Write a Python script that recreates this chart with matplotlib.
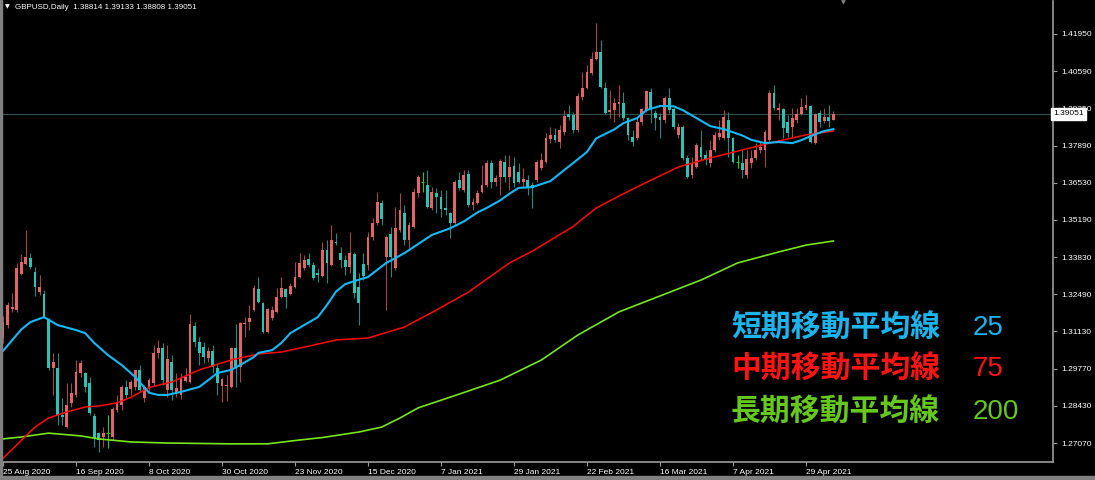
import numpy as np
import matplotlib.pyplot as plt
from matplotlib import font_manager

# GBPUSD daily candles (bar 0 = 25 Aug 2020)
opens = [
    1.3089, 1.3136, 1.3195, 1.3191, 1.3322, 1.3358, 1.3380, 1.3329, 1.3256, 1.3249,
    1.3155, 1.2980, 1.2980, 1.2809, 1.2765, 1.2853, 1.2882, 1.2962, 1.2962, 1.2925,
    1.2805, 1.2744, 1.2729, 1.2744, 1.2729, 1.2827, 1.2845, 1.2911, 1.2904, 1.2911,
    1.2973, 1.2871, 1.2911, 1.2925, 1.3035, 1.3053, 1.2900, 1.3002, 1.2893, 1.2882,
    1.2933, 1.2929, 1.3133, 1.3075, 1.3056, 1.3016, 1.3042, 1.2980, 1.2915, 1.2915,
    1.2911, 1.3053, 1.2984, 1.3140, 1.3147, 1.3191, 1.3267, 1.3216, 1.3111, 1.3162,
    1.3184, 1.3238, 1.3267, 1.3249, 1.3275, 1.3311, 1.3344, 1.3376, 1.3355, 1.3326,
    1.3315, 1.3409, 1.3355, 1.3438, 1.3398, 1.3373, 1.3347, 1.3395, 1.3275, 1.3358,
    1.3355, 1.3457, 1.3507, 1.3580, 1.3384, 1.3467, 1.3344, 1.3482, 1.3544, 1.3446,
    1.3493, 1.3617, 1.3657, 1.3646, 1.3562, 1.3617, 1.3602, 1.3562, 1.3544, 1.3507,
    1.3664, 1.3628, 1.3686, 1.3573, 1.3580, 1.3620, 1.3646, 1.3726, 1.3657, 1.3675,
    1.3729, 1.3675, 1.3715, 1.3693, 1.3657, 1.3664, 1.3646, 1.3664, 1.3708, 1.3729,
    1.3813, 1.3828, 1.3802, 1.3839, 1.3904, 1.3900, 1.3846, 1.3966, 1.3999, 1.4053,
    1.4104, 1.4130, 1.3999, 1.3911, 1.3919, 1.3940, 1.3944, 1.3889, 1.3820, 1.3817,
    1.3875, 1.3919, 1.3984, 1.3908, 1.3893, 1.3882, 1.3962, 1.3922, 1.3828, 1.3857,
    1.3744, 1.3682, 1.3711, 1.3784, 1.3755, 1.3726, 1.3773, 1.3820, 1.3817, 1.3882,
    1.3817, 1.3729, 1.3726, 1.3682, 1.3726, 1.3744, 1.3773, 1.3773, 1.3809, 1.3980,
    1.3919, 1.3922, 1.3875, 1.3857, 1.3882, 1.3904, 1.3926, 1.3933, 1.3799, 1.3908,
    1.3879, 1.3893, 1.38814]
highs = [
    1.3169, 1.3220, 1.3253, 1.3362, 1.3395, 1.3482, 1.3398, 1.3347, 1.3318, 1.3264,
    1.3162, 1.3035, 1.3035, 1.2871, 1.2925, 1.2925, 1.3009, 1.3009, 1.2965, 1.2947,
    1.2816, 1.2747, 1.2765, 1.2809, 1.2838, 1.2882, 1.2918, 1.2936, 1.2936, 1.2973,
    1.2991, 1.2918, 1.2944, 1.3064, 1.3082, 1.3071, 1.3064, 1.3027, 1.2962, 1.2962,
    1.2980, 1.3176, 1.3147, 1.3093, 1.3075, 1.3056, 1.3064, 1.2998, 1.2944, 1.2955,
    1.3056, 1.3140, 1.3147, 1.3165, 1.3209, 1.3282, 1.3311, 1.3220, 1.3198, 1.3205,
    1.3271, 1.3311, 1.3271, 1.3289, 1.3366, 1.3398, 1.3391, 1.3398, 1.3366, 1.3344,
    1.3438, 1.3446, 1.3500, 1.3471, 1.3420, 1.3391, 1.3475, 1.3402, 1.3326, 1.3398,
    1.3475, 1.3526, 1.3620, 1.3591, 1.3464, 1.3493, 1.3566, 1.3617, 1.3573, 1.3511,
    1.3635, 1.3682, 1.3693, 1.3700, 1.3638, 1.3635, 1.3628, 1.3628, 1.3547, 1.3664,
    1.3693, 1.3700, 1.3700, 1.3598, 1.3628, 1.3718, 1.3737, 1.3737, 1.3682, 1.3740,
    1.3755, 1.3755, 1.3748, 1.3726, 1.3708, 1.3682, 1.3657, 1.3737, 1.3762, 1.3835,
    1.3857, 1.3853, 1.3864, 1.3919, 1.3937, 1.3911, 1.3980, 1.4057, 1.4082, 1.4130,
    1.4235, 1.4173, 1.4020, 1.3991, 1.3962, 1.4010, 1.3984, 1.3893, 1.3846, 1.3893,
    1.3926, 1.3991, 1.3999, 1.3919, 1.3908, 1.3969, 1.3999, 1.3929, 1.3871, 1.3864,
    1.3755, 1.3748, 1.3799, 1.3846, 1.3773, 1.3809, 1.3839, 1.3882, 1.3919, 1.3911,
    1.3820, 1.3755, 1.3773, 1.3773, 1.3773, 1.3799, 1.3802, 1.3846, 1.3991, 1.4010,
    1.3944, 1.3926, 1.3900, 1.3926, 1.3926, 1.3962, 1.3973, 1.3937, 1.3908, 1.3919,
    1.3926, 1.3937, 1.39133]
lows = [
    1.3071, 1.3125, 1.3184, 1.3184, 1.3318, 1.3355, 1.3340, 1.3242, 1.3246, 1.3162,
    1.2973, 1.2882, 1.2773, 1.2773, 1.2762, 1.2838, 1.2874, 1.2947, 1.2893, 1.2809,
    1.2693, 1.2674, 1.2693, 1.2689, 1.2718, 1.2820, 1.2827, 1.2871, 1.2882, 1.2900,
    1.2893, 1.2856, 1.2893, 1.2918, 1.3016, 1.2918, 1.2874, 1.2864, 1.2874, 1.2867,
    1.2929, 1.2925, 1.3056, 1.2991, 1.2998, 1.3002, 1.2962, 1.2882, 1.2856, 1.2860,
    1.2907, 1.2911, 1.2929, 1.3093, 1.3118, 1.3187, 1.3216, 1.3107, 1.3107, 1.3155,
    1.3180, 1.3235, 1.3198, 1.3246, 1.3271, 1.3307, 1.3336, 1.3347, 1.3300, 1.3293,
    1.3311, 1.3289, 1.3351, 1.3427, 1.3344, 1.3318, 1.3326, 1.3235, 1.3136, 1.3300,
    1.3336, 1.3446, 1.3500, 1.3500, 1.3191, 1.3311, 1.3336, 1.3475, 1.3427, 1.3416,
    1.3489, 1.3602, 1.3620, 1.3562, 1.3555, 1.3544, 1.3529, 1.3537, 1.3453, 1.3500,
    1.3628, 1.3620, 1.3566, 1.3555, 1.3577, 1.3617, 1.3638, 1.3635, 1.3642, 1.3609,
    1.3657, 1.3628, 1.3638, 1.3653, 1.3638, 1.3609, 1.3562, 1.3657, 1.3700, 1.3726,
    1.3799, 1.3802, 1.3780, 1.3828, 1.3882, 1.3835, 1.3839, 1.3955, 1.3995, 1.4046,
    1.4100, 1.3999, 1.3904, 1.3889, 1.3875, 1.3893, 1.3882, 1.3809, 1.3788, 1.3809,
    1.3864, 1.3911, 1.3871, 1.3846, 1.3817, 1.3871, 1.3908, 1.3849, 1.3817, 1.3737,
    1.3671, 1.3671, 1.3708, 1.3737, 1.3718, 1.3711, 1.3766, 1.3809, 1.3809, 1.3748,
    1.3726, 1.3708, 1.3671, 1.3671, 1.3708, 1.3737, 1.3762, 1.3711, 1.3802, 1.3919,
    1.3882, 1.3817, 1.3820, 1.3820, 1.3871, 1.3900, 1.3919, 1.3799, 1.3795, 1.3857,
    1.3871, 1.3857, 1.38808]
closes = [
    1.3147, 1.3209, 1.3202, 1.3344, 1.3366, 1.3384, 1.3347, 1.3275, 1.3275, 1.3165,
    1.2980, 1.3002, 1.2809, 1.2802, 1.2845, 1.2889, 1.2965, 1.2998, 1.2911, 1.2816,
    1.2725, 1.2718, 1.2744, 1.2744, 1.2831, 1.2856, 1.2911, 1.2882, 1.2929, 1.2973,
    1.2900, 1.2911, 1.2936, 1.3035, 1.3053, 1.2936, 1.3013, 1.2900, 1.2907, 1.2944,
    1.2947, 1.3140, 1.3075, 1.3035, 1.3020, 1.3042, 1.2984, 1.2925, 1.2940, 1.2918,
    1.3053, 1.2984, 1.3144, 1.3144, 1.3162, 1.3271, 1.3220, 1.3111, 1.3195, 1.3191,
    1.3238, 1.3271, 1.3238, 1.3278, 1.3311, 1.3362, 1.3373, 1.3355, 1.3307, 1.3318,
    1.3409, 1.3362, 1.3446, 1.3435, 1.3373, 1.3347, 1.3398, 1.3253, 1.3216, 1.3315,
    1.3457, 1.3507, 1.3584, 1.3522, 1.3457, 1.3384, 1.3489, 1.3555, 1.3446, 1.3500,
    1.3620, 1.3675, 1.3657, 1.3566, 1.3620, 1.3602, 1.3558, 1.3555, 1.3507, 1.3657,
    1.3635, 1.3682, 1.3573, 1.3584, 1.3617, 1.3646, 1.3726, 1.3657, 1.3671, 1.3733,
    1.3675, 1.3711, 1.3653, 1.3657, 1.3668, 1.3635, 1.3635, 1.3729, 1.3737, 1.3817,
    1.3828, 1.3809, 1.3846, 1.3897, 1.3893, 1.3846, 1.3969, 1.3999, 1.4057, 1.4104,
    1.4130, 1.4002, 1.3908, 1.3919, 1.3944, 1.3948, 1.3889, 1.3828, 1.3802, 1.3875,
    1.3922, 1.3988, 1.3922, 1.3889, 1.3882, 1.3962, 1.3919, 1.3857, 1.3857, 1.3744,
    1.3675, 1.3726, 1.3791, 1.3748, 1.3737, 1.3773, 1.3828, 1.3835, 1.3893, 1.3817,
    1.3729, 1.3729, 1.3700, 1.3740, 1.3744, 1.3773, 1.3784, 1.3839, 1.3980, 1.3926,
    1.3926, 1.3853, 1.3835, 1.3889, 1.3904, 1.3929, 1.3937, 1.3802, 1.3904, 1.3875,
    1.3893, 1.3879, 1.39051]

# moving averages at selected bars
ma25_bars = [0, 4, 6, 9, 12, 16, 18, 20, 23, 26, 29, 32, 34, 36, 39, 43, 45, 47, 50,
             52, 55, 56, 59, 61, 63, 66, 69, 71, 73, 75, 77, 80, 84, 88, 90, 94, 98,
             101, 104, 106, 109, 111, 113, 116, 120, 123, 125, 128, 130, 134, 136,
             139, 141, 144, 147, 149, 152, 155, 158, 162, 164, 167, 170, 173, 175,
             178, 180, 182]
ma25_vals = [1.3042, 1.3120, 1.3147, 1.3165, 1.3136, 1.3118, 1.3107, 1.3071, 1.3027,
             1.2991, 1.2947, 1.2890, 1.2882, 1.2882, 1.2893, 1.2911, 1.2936, 1.2962,
             1.2973, 1.2991, 1.3020, 1.3035, 1.3045, 1.3071, 1.3107, 1.3136, 1.3165,
             1.3209, 1.3258, 1.3285, 1.3296, 1.3311, 1.3362, 1.3398, 1.3420, 1.3464,
             1.3488, 1.3513, 1.3546, 1.3562, 1.3590, 1.3614, 1.3635, 1.3638, 1.3660,
             1.3700, 1.3726, 1.3766, 1.3815, 1.3848, 1.3871, 1.3889, 1.3918, 1.3933,
             1.3932, 1.3918, 1.3889, 1.3860, 1.3849, 1.3826, 1.3810, 1.3798, 1.3802,
             1.3798, 1.3809, 1.3830, 1.3842, 1.3849]
ma75_bars = [0, 3, 7, 10, 14, 18, 21, 25, 28, 32, 37, 43, 50, 56, 61, 68, 73, 80, 88,
             95, 102, 111, 116, 120, 125, 130, 136, 141, 148, 155, 162, 169, 176, 182]
ma75_vals = [1.2652, 1.2700, 1.2765, 1.2798, 1.2820, 1.2838, 1.2842, 1.2853, 1.2873,
             1.2909, 1.2929, 1.2973, 1.3009, 1.3031, 1.3038, 1.3063, 1.3082, 1.3089,
             1.3129, 1.3191, 1.3256, 1.3362, 1.3405, 1.3445, 1.3495, 1.3562, 1.3614,
             1.3655, 1.3711, 1.3744, 1.3773, 1.3802, 1.3828, 1.3842]
ma200_bars = [0, 4, 10, 17, 21, 28, 36, 50, 58, 65, 70, 78, 83, 87, 91, 100, 109, 118,
              126, 135, 144, 153, 161, 170, 176, 182]
ma200_vals = [1.2722, 1.2729, 1.2743, 1.2733, 1.2722, 1.2711, 1.2707, 1.2704, 1.2704,
              1.2718, 1.2727, 1.2747, 1.2765, 1.2798, 1.2835, 1.2885, 1.2936, 1.3009,
              1.3100, 1.3184, 1.3242, 1.3300, 1.3362, 1.3402, 1.3427, 1.3442]

date_bars = [0, 16, 32, 48, 64, 80, 96, 112, 128, 144, 160, 176]
date_labels = ['25 Aug 2020', '16 Sep 2020', '8 Oct 2020', '30 Oct 2020', '23 Nov 2020',
               '15 Dec 2020', '7 Jan 2021', '29 Jan 2021', '22 Feb 2021', '16 Mar 2021',
               '7 Apr 2021', '29 Apr 2021']
price_labels = ['1.41950', '1.40590', '1.39250', '1.37890', '1.36530', '1.35190',
                '1.33830', '1.32490', '1.31130', '1.29770', '1.28430', '1.27070']
last_price = 1.39051
title = 'GBPUSD,Daily  1.38814 1.39133 1.38808 1.39051'

legend_names = ['短期移動平均線', '中期移動平均線', '長期移動平均線']
legend_periods = ['25', '75', '200']
legend_colors = ['#1CB4EC', '#FF1414', '#66C81E']

plt.rcParams['font.family'] = ['Liberation Sans', 'DejaVu Sans']
installed = {f.name for f in font_manager.fontManager.ttflist}
num_font = 'Liberation Sans Narrow' if 'Liberation Sans Narrow' in installed else 'Liberation Sans'

W, H = 1095, 480
fig = plt.figure(figsize=(W / 100, H / 100), dpi=100, facecolor='black')
ax = fig.add_axes([2 / W, 18 / H, 1051 / W, 461 / H])
ax.set_facecolor('black')

o = np.array(opens)
h = np.array(highs)
l = np.array(lows)
c = np.array(closes)
idx = np.arange(len(o))
h = np.maximum(h, np.maximum(o, c))
l = np.minimum(l, np.minimum(o, c))

bull = c > o
bear = c < o
doji = ~(bull | bear)

wick_col = np.where(bull, '#A34848', np.where(bear, '#1F8A82', '#22CC22'))
body_col = np.where(bull, '#E26565', np.where(bear, '#2EC2B6', '#22CC22'))

ax.axhline(last_price, color='#2F4F4F', lw=0.8, zorder=0.5)
ax.vlines(idx, l, h, colors=wick_col, lw=0.8, zorder=1)
body_lo = np.minimum(o, c)
body_h = np.maximum(np.abs(c - o), 0.0003)
ax.bar(idx[~doji], body_h[~doji], bottom=body_lo[~doji], width=0.62,
       color=body_col[~doji], lw=0, zorder=2)
ax.hlines(o[doji], idx[doji] - 0.35, idx[doji] + 0.35, colors='#22CC22', lw=0.8, zorder=2)

ax.plot(ma200_bars, ma200_vals, color='#78E61C', lw=1.2, zorder=3)
ax.plot(ma75_bars, ma75_vals, color='#FF0A0A', lw=1.1, zorder=3)
ax.plot(ma25_bars, ma25_vals, color='#14B9F5', lw=1.5, zorder=3)

ax.set_xlim(-0.22, 230.14)
ax.set_ylim(1.2638, 1.4315)

for side in ['left', 'top']:
    ax.spines[side].set_visible(False)
for side in ['right', 'bottom']:
    ax.spines[side].set_color('#9A9A9A')
    ax.spines[side].set_linewidth(1.2)

ax.yaxis.tick_right()
ax.set_yticks(np.linspace(1.41950, 1.27070, len(price_labels)), price_labels)
ax.set_xticks(date_bars, date_labels)
for lab in ax.get_xticklabels():
    lab.set_ha('left')
ax.tick_params(colors='#9A9A9A', labelcolor='white', labelsize=6, length=3, width=0.8)
ax.tick_params(axis='y', pad=3)
ax.tick_params(axis='x', pad=2)

# current price box on the price scale (covers part of the 1.39250 label, as in MT4)
ax.text(1.0, last_price, '1.39051', transform=ax.get_yaxis_transform(),
        ha='left', va='center', fontsize=6, color='black', zorder=6, clip_on=False,
        bbox=dict(boxstyle='square,pad=0.3', fc='white', ec='white'))

fig.text(5 / W, 1 - 7 / H, '▼', color='white', fontsize=4.5, family='DejaVu Sans',
         ha='left', va='center')
fig.text(15 / W, 1 - 7.5 / H, title, color='white', fontsize=5.8, ha='left', va='center')
fig.text(843 / W, 1 - 3 / H, '▼', color='#808080', fontsize=4.5, family='DejaVu Sans',
         ha='center', va='center')

rows_y = [328, 369, 412]
for name, per, col, yy in zip(legend_names, legend_periods, legend_colors, rows_y):
    fig.text(731 / W, 1 - yy / H, name, color=col, fontsize=21.5, fontweight='bold',
             family=['Noto Sans CJK JP', 'DejaVu Sans'], ha='left', va='center')
    fig.text(973 / W, 1 - yy / H, per, color=col, fontsize=20, family=num_font,
             ha='left', va='center')

# window frame
fig.patches.append(plt.Rectangle((0, 0), 2 / W, 1, transform=fig.transFigure,
                                 color='#808080', zorder=10))
fig.patches.append(plt.Rectangle((0, 0), 1, 4 / H, transform=fig.transFigure,
                                 color='#808080', zorder=10))

fig.savefig('out.png', dpi=100, facecolor='black')
